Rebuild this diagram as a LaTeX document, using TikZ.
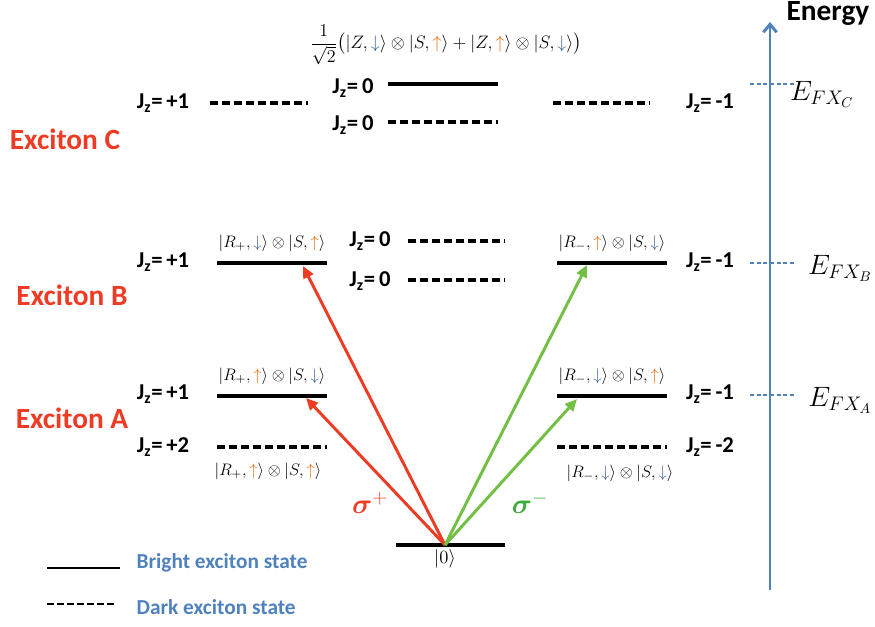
\RequirePackage{fix-cm}
\documentclass[tikz,border=0pt]{standalone}
\usepackage{amsmath,amssymb}
\usepackage{fontspec}
\newfontfamily\calib{Carlito}
\usepackage{tikz}
\usetikzlibrary{positioning,arrows.meta}
\usepackage{xcolor}

\definecolor{axblue}{HTML}{4F81BD}
\definecolor{exred}{HTML}{EE3B24}
\definecolor{exgreen}{HTML}{72BF44}
\definecolor{sggreen}{HTML}{3DAA3A}
\definecolor{arrup}{HTML}{E46C0A}
\definecolor{arrdn}{HTML}{376092}

\newcommand{\kt}[1]{\left|#1\right\rangle}
\newcommand{\upa}{\textcolor{arrup}{\uparrow}}
\newcommand{\dna}{\textcolor{arrdn}{\downarrow}}
\newcommand{\Jz}[1]{J\textsubscript{z}=\,#1}

\begin{document}
\begin{tikzpicture}[
  x=0.75pt, y=-0.75pt,
  bright/.style = {line width=2.4pt},
  dark/.style   = {line width=2.4pt, dash pattern=on 6pt off 3pt},
  jz/.style     = {font=\calib\bfseries\fontsize{17}{20}\selectfont, inner sep=1pt},
  exc/.style    = {font=\calib\bfseries\fontsize{22}{26}\selectfont, text=exred, inner sep=1pt},
  st/.style     = {font=\fontsize{12.5}{15}\selectfont, inner sep=1pt},
  en/.style     = {font=\fontsize{21}{25}\selectfont, inner sep=1pt},
  leg/.style    = {font=\calib\bfseries\fontsize{16}{19}\selectfont, text=axblue, anchor=west, inner sep=1pt},
  tick/.style   = {axblue, line width=1pt, dash pattern=on 3pt off 2pt},
  ex/.style     = {-{Triangle[length=9pt,width=8pt]}, line width=2.2pt},
]
\useasboundingbox (0,0) rectangle (875,626);

% ---------------- energy axis ------------------------------------------
\coordinate (ax0) at (770,590);
\coordinate (ax1) at (770,22);
\draw[axblue, line width=2.2pt, -{Straight Barb[length=6pt,width=10pt]}] (ax0) -- (ax1);
\node[font=\calib\bfseries\fontsize{22}{26}\selectfont, inner sep=1pt] (energy) at (828,13) {Energy};

\draw[tick] (750,84) -- (795,84);
\draw[tick] (750,263) -- (795,263);
\draw[tick] (750,395) -- (795,395);
\node[en] (efc) at (822,94)  {$E_{FX_C}$};
\node[en] (efb) at (840,268) {$E_{FX_B}$};
\node[en] (efa) at (840,400) {$E_{FX_A}$};

% ---------------- exciton C --------------------------------------------
\node[exc] (xc) at (65,139) {Exciton C};
\node[jz] (jc1) at (163,103) {\Jz{+1}};
\draw[dark] (210,103) -- (308,103);
\node[jz] (jc0a) at (353,88) {\Jz{0}};
\draw[bright] (388,84) -- (498,84);
\node[jz] (jc0b) at (353,125) {\Jz{0}};
\draw[dark] (388,122) -- (498,122);
\draw[dark] (553,103) -- (650,103);
\node[jz] (jc2) at (710,103) {\Jz{-1}};
\node[st, font=\fontsize{13.5}{16}\selectfont] (sc) at (446,45)
  {$\dfrac{1}{\sqrt{2}}\bigl(\kt{Z,\dna}\otimes\kt{S,\upa}+\kt{Z,\upa}\otimes\kt{S,\dna}\bigr)$};

% ---------------- exciton B --------------------------------------------
\node[exc] (xb) at (72,295) {Exciton B};
\node[jz] (jb1) at (163,262) {\Jz{+1}};
\draw[bright] (217,263) -- (327,263);
\node[st] (sb1) at (272,243) {$\kt{R_+,\dna}\otimes\kt{S,\upa}$};
\node[jz] (jb0a) at (370,241) {\Jz{0}};
\draw[dark] (408,241) -- (505,241);
\node[jz] (jb0b) at (370,281) {\Jz{0}};
\draw[dark] (408,280) -- (505,280);
\draw[bright] (557,263) -- (667,263);
\node[st] (sb2) at (612,243) {$\kt{R_-,\upa}\otimes\kt{S,\dna}$};
\node[jz] (jb2) at (710,262) {\Jz{-1}};

% ---------------- exciton A --------------------------------------------
\node[exc] (xa) at (72,418) {Exciton A};
\node[jz] (ja1) at (163,394) {\Jz{+1}};
\draw[bright] (217,396) -- (327,396);
\node[st] (sa1) at (272,376) {$\kt{R_+,\upa}\otimes\kt{S,\dna}$};
\node[jz] (ja2) at (163,447) {\Jz{+2}};
\draw[dark] (217,447) -- (327,447);
\node[st] (sa2) at (268,471) {$\kt{R_+,\upa}\otimes\kt{S,\upa}$};
\draw[bright] (557,396) -- (667,396);
\node[st] (sa3) at (612,376) {$\kt{R_-,\dna}\otimes\kt{S,\upa}$};
\node[jz] (ja3) at (710,394) {\Jz{-1}};
\draw[dark] (557,447) -- (667,447);
\node[jz] (ja4) at (710,447) {\Jz{-2}};
\node[st] (sa4) at (620,473) {$\kt{R_-,\dna}\otimes\kt{S,\dna}$};

% ---------------- ground state and transitions -------------------------
\draw[bright] (396,545) -- (505,545);
\coordinate (g0) at (445,545);
\node[st, font=\fontsize{14}{16}\selectfont, below=2pt of g0] (gs) {$\kt{0}$};

\coordinate (tb1) at (303,266);
\coordinate (ta1) at (306,398);
\coordinate (tb2) at (587,265);
\coordinate (ta3) at (577,399);
\draw[ex, exred]   (g0) -- (tb1);
\draw[ex, exred]   (g0) -- (ta1);
\draw[ex, exgreen] (g0) -- (tb2);
\draw[ex, exgreen] (g0) -- (ta3);
\node[font=\fontsize{21}{25}\selectfont, text=exred]   (sp) at (370,503) {$\boldsymbol{\sigma}^{+}$};
\node[font=\fontsize{21}{25}\selectfont, text=sggreen] (sm) at (530,503) {$\boldsymbol{\sigma}^{-}$};

% ---------------- legend -----------------------------------------------
\draw[bright, line width=2pt] (47,568) -- (120,568);
\node[leg] (lb) at (135,563) {Bright exciton state};
\draw[dark, line width=2pt, dash pattern=on 5pt off 2.5pt] (47,604) -- (115,604);
\node[leg] (ld) at (135,607) {Dark exciton state};

\end{tikzpicture}
\end{document}
